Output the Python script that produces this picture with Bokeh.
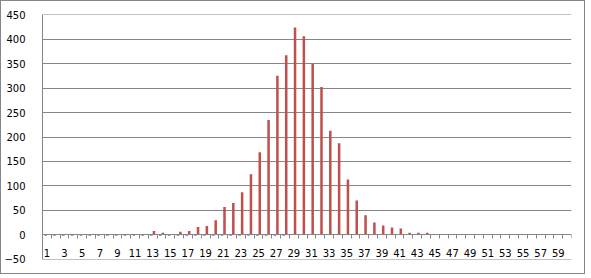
from bokeh.plotting import figure
from bokeh.models import ColumnDataSource, Range1d, FixedTicker, LinearAxis
from bokeh.transform import dodge
from bokeh.embed import file_html
from bokeh.resources import INLINE

categories = list(range(1, 61))
series_blue = [-2, -2, -2, -2, -2, -2, -2, -2, -2, -2,
               -2, -2, -2, -2, -2, -2, -2, -2, -2, -2,
               -2, -2, -2, -2, -2, -2, -2, -2, 0, 0,
               0, 0, 0, 0, 0, 0, 0, 0, 0, 0,
               0, 0, 0, 0, 0, 0, 0, 0, 0, 0,
               0, 0, 0, 0, 0, 0, 0, 0, 0, 0]
series_red = [0, 0, 0, 0, 0, 0, 0, 0, 0, 0,
              0, 0, 8, 4, 0, 6, 8, 16, 18, 30,
              57, 65, 87, 124, 169, 235, 325, 367, 424, 406,
              350, 302, 213, 187, 113, 70, 40, 25, 19, 15,
              13, 4, 4, 4, 0, 0, 0, 0, 0, 0,
              0, 0, 0, 0, 0, 0, 0, 0, 0, 0]
y_ticks = [-50, 0, 50, 100, 150, 200, 250, 300, 350, 400, 450]
x_label_ticks = [c for c in categories if c % 2 == 1]

GRID = "#868686"
FONT = "DejaVu Sans"

src = ColumnDataSource(dict(x=categories, blue=series_blue, red=series_red))

p = figure(width=585, height=274, output_backend="svg", toolbar_location=None,
           x_range=Range1d(0.5, 60.5), y_range=Range1d(-50.5, 450.5),
           min_border_left=41, min_border_right=15, min_border_top=13, min_border_bottom=16,
           x_axis_location=None, y_axis_location=None)
p.styles = {"border": "1px solid #868686"}
p.outline_line_color = None
p.background_fill_color = "white"
p.border_fill_color = "white"

p.vbar(x=dodge("x", -0.143), top="blue", bottom=0, width=0.286, source=src,
       fill_color="#4F81BD", line_color=None)
p.vbar(x=dodge("x", 0.143), top="red", bottom=0, width=0.286, source=src,
       fill_color="#C0504D", line_color=None)

# y axis
yax = LinearAxis(ticker=FixedTicker(ticks=y_ticks))
yax.axis_line_color = GRID
yax.major_tick_line_color = None
yax.minor_tick_line_color = None
yax.major_label_standoff = 11
yax.major_label_text_font = FONT
yax.major_label_text_font_size = "10px"
yax.major_label_text_color = "black"
p.add_layout(yax, "left")

# x tick axis at y=0 (category boundaries)
xtick = LinearAxis(ticker=FixedTicker(ticks=[c - 0.5 for c in categories] + [60.5]),
                   fixed_location=0)
xtick.axis_line_color = GRID
xtick.major_tick_line_color = GRID
xtick.major_tick_in = 0
xtick.major_tick_out = 4
xtick.minor_tick_line_color = None
xtick.major_label_text_font_size = "0px"
xtick.major_label_text_alpha = 0
p.add_layout(xtick, "below")

# x label axis at y=0
xlab = LinearAxis(ticker=FixedTicker(ticks=x_label_ticks), fixed_location=0)
xlab.axis_line_color = None
xlab.major_tick_line_color = None
xlab.minor_tick_line_color = None
xlab.major_label_standoff = 8
xlab.major_label_text_font = FONT
xlab.major_label_text_font_size = "10px"
xlab.major_label_text_color = "black"
p.add_layout(xlab, "below")

p.xgrid.visible = False
p.ygrid.ticker = FixedTicker(ticks=y_ticks)
p.ygrid.grid_line_color = GRID

open("out.html", "w").write(file_html(p, INLINE))
